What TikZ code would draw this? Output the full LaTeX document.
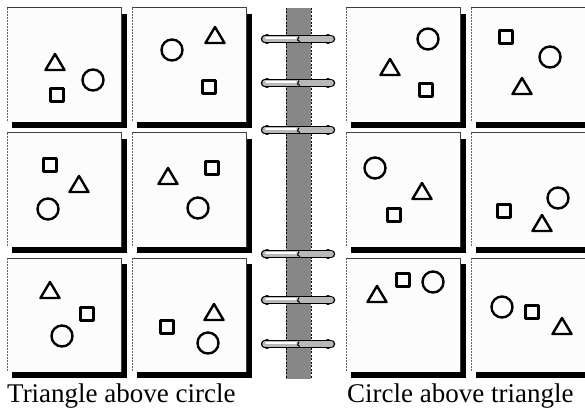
\documentclass[tikz,border=0pt]{standalone}
\usepackage{fontspec}
\setmainfont{Liberation Serif}
\definecolor{panelfill}{HTML}{FCFCFC}
\definecolor{spinegray}{HTML}{878787}
\definecolor{ringgray}{HTML}{B8B8B8}
\begin{document}
\begin{tikzpicture}[x=1pt,y=-1pt,
  shapeline/.style={draw=black,line width=2.4pt,line join=round},
  tri/.pic={\draw[shapeline] (0,-8) -- (9.5,8) -- (-9.5,8) -- cycle;},
  sq/.pic={\draw[shapeline] (-6.5,-6.5) rectangle (6.5,6.5);},
  circ/.pic={\draw[shapeline] (0,0) circle[radius=10.5];},
  lbl/.style={anchor=base west,inner sep=0pt,font=\fontsize{27}{31}\selectfont},
  ring/.pic={
    \fill[black] (-32,0) circle[radius=5];
    \fill[black] (29,0) circle[radius=5];
    \draw[black,line width=8.5pt,line cap=round] (-34,0) -- (32,0);
    \draw[ringgray,line width=5.5pt,line cap=round] (-34,0) -- (32,0);
    \draw[white,line width=1.6pt,line cap=round] (-33,-0.8) -- (-3,-0.8);
    \draw[black,line width=1pt] (0,-2.5) -- (-1.5,1) -- (1,2.5);
  }]
\useasboundingbox (0,0) rectangle (585,414);
\fill[white] (0,0) rectangle (585,414);
% panels
\foreach \px in {7,132,346,471}{
  \foreach \py in {8,133,258}{
    \fill[black] (\px+5,\py+6) rectangle (\px+120,\py+120);
    \fill[panelfill] (\px,\py) rectangle (\px+114,\py+114);
    \draw[black!75,line width=1pt] (\px,\py) -- (\px+114,\py) -- (\px+114,\py+114);
    \draw[black!60,line width=0.8pt,dash pattern=on 2pt off 1pt] (\px,\py) -- (\px,\py+114);
  }
}
% spine
\fill[spinegray] (286,8) rectangle (311,379);
\draw[black,line width=0.8pt,dash pattern=on 2pt off 1.5pt] (286,8) -- (286,379);
\draw[black,line width=0.8pt,dash pattern=on 2pt off 1.5pt] (311,8) -- (311,379);
% rings
\foreach \ry in {39,83,130,254,300,344}{
  \pic at (299,\ry) {ring};
}
% row 1
\pic at (55,62) {tri}; \pic at (57,95) {sq}; \pic at (93,80) {circ};
\pic at (172,50) {circ}; \pic at (215,35) {tri}; \pic at (209,87) {sq};
\pic at (428,39) {circ}; \pic at (390,67) {tri}; \pic at (426,90) {sq};
\pic at (506,37) {sq}; \pic at (550,57) {circ}; \pic at (522,86) {tri};
% row 2
\pic at (50,165) {sq}; \pic at (79,184) {tri}; \pic at (48,209) {circ};
\pic at (168,176) {tri}; \pic at (212,168) {sq}; \pic at (198,208) {circ};
\pic at (375,168) {circ}; \pic at (422,191) {tri}; \pic at (394,215) {sq};
\pic at (504,211) {sq}; \pic at (558,198) {circ}; \pic at (542,223) {tri};
% row 3
\pic at (50,290) {tri}; \pic at (87,314) {sq}; \pic at (62,336) {circ};
\pic at (167,327) {sq}; \pic at (214,312) {tri}; \pic at (208,343) {circ};
\pic at (377,294) {tri}; \pic at (403,280) {sq}; \pic at (433,282) {circ};
\pic at (502,307) {circ}; \pic at (532,312) {sq}; \pic at (562,326) {tri};
% labels
\node[lbl] (lblL) at (7,402) {Triangle above circle};
\node[lbl] (lblR) at (347,402) {Circle above triangle};
\end{tikzpicture}
\end{document}
